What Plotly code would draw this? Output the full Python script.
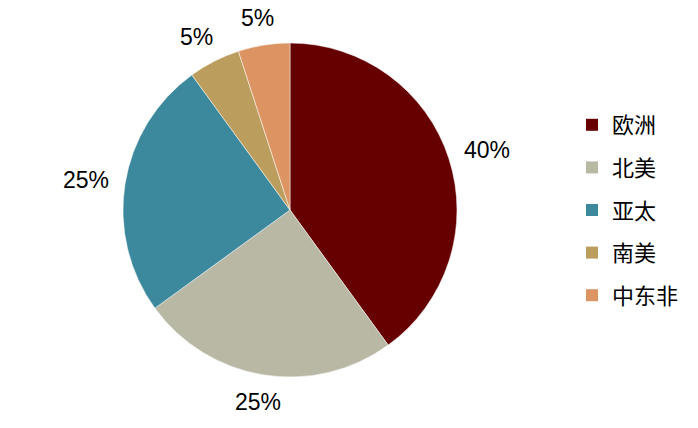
import math
import plotly.graph_objects as go

labels = ["欧洲", "北美", "亚太", "南美", "中东非"]
values = [40, 25, 25, 5, 5]
text_labels = ["40%", "25%", "25%", "5%", "5%"]
colors = ["#660000", "#B8B8A5", "#3C889C", "#BB9E5D", "#DC9562"]

W, H = 698, 428
cx, cy, r = 290, 210, 167
label_rx = r + 40   # text is wider than tall, so horizontal offset is larger
label_ry = r + 27
FONT = "Liberation Sans, Arial, Noto Sans CJK SC, sans-serif"

fig = go.Figure()
fig.add_trace(go.Pie(
    labels=labels, values=values, sort=False, direction="clockwise", rotation=0,
    marker=dict(colors=colors, line=dict(color="white", width=0.5)),
    textinfo="none", showlegend=False, hoverinfo="label+percent",
    domain=dict(x=[(cx - r) / W, (cx + r) / W], y=[1 - (cy + r) / H, 1 - (cy - r) / H]),
))

# legend entries
for lab, col in zip(labels, colors):
    fig.add_trace(go.Scatter(
        x=[None], y=[None], mode="markers", name=lab, legendgroup=lab,
        marker=dict(symbol="square", size=11, color=col),
    ))

# outside percentage labels computed from values
total = sum(values)
cum = 0
annotations = []
for v, t in zip(values, text_labels):
    mid = (cum + v / 2) / total * 2 * math.pi
    cum += v
    px = cx + label_rx * math.sin(mid)
    py = cy - label_ry * math.cos(mid)
    annotations.append(dict(
        x=px / W, y=1 - py / H, xref="paper", yref="paper", text=t,
        showarrow=False, xanchor="center", yanchor="middle",
        font=dict(size=23, color="#000000", family=FONT),
    ))

fig.update_layout(
    width=W, height=H, margin=dict(l=0, r=0, t=0, b=0),
    paper_bgcolor="white", plot_bgcolor="white",
    xaxis=dict(visible=False), yaxis=dict(visible=False),
    annotations=annotations,
    legend=dict(
        x=572 / W, y=1 - 210 / H, xanchor="left", yanchor="middle",
        font=dict(size=22, color="#000000", family="Noto Sans CJK SC, sans-serif"),
        tracegroupgap=11, itemsizing="constant",
    ),
    font=dict(family=FONT),
)

fig.write_html("out.html", config={"displayModeBar": False},
               post_script="document.body.style.margin='0px';")
